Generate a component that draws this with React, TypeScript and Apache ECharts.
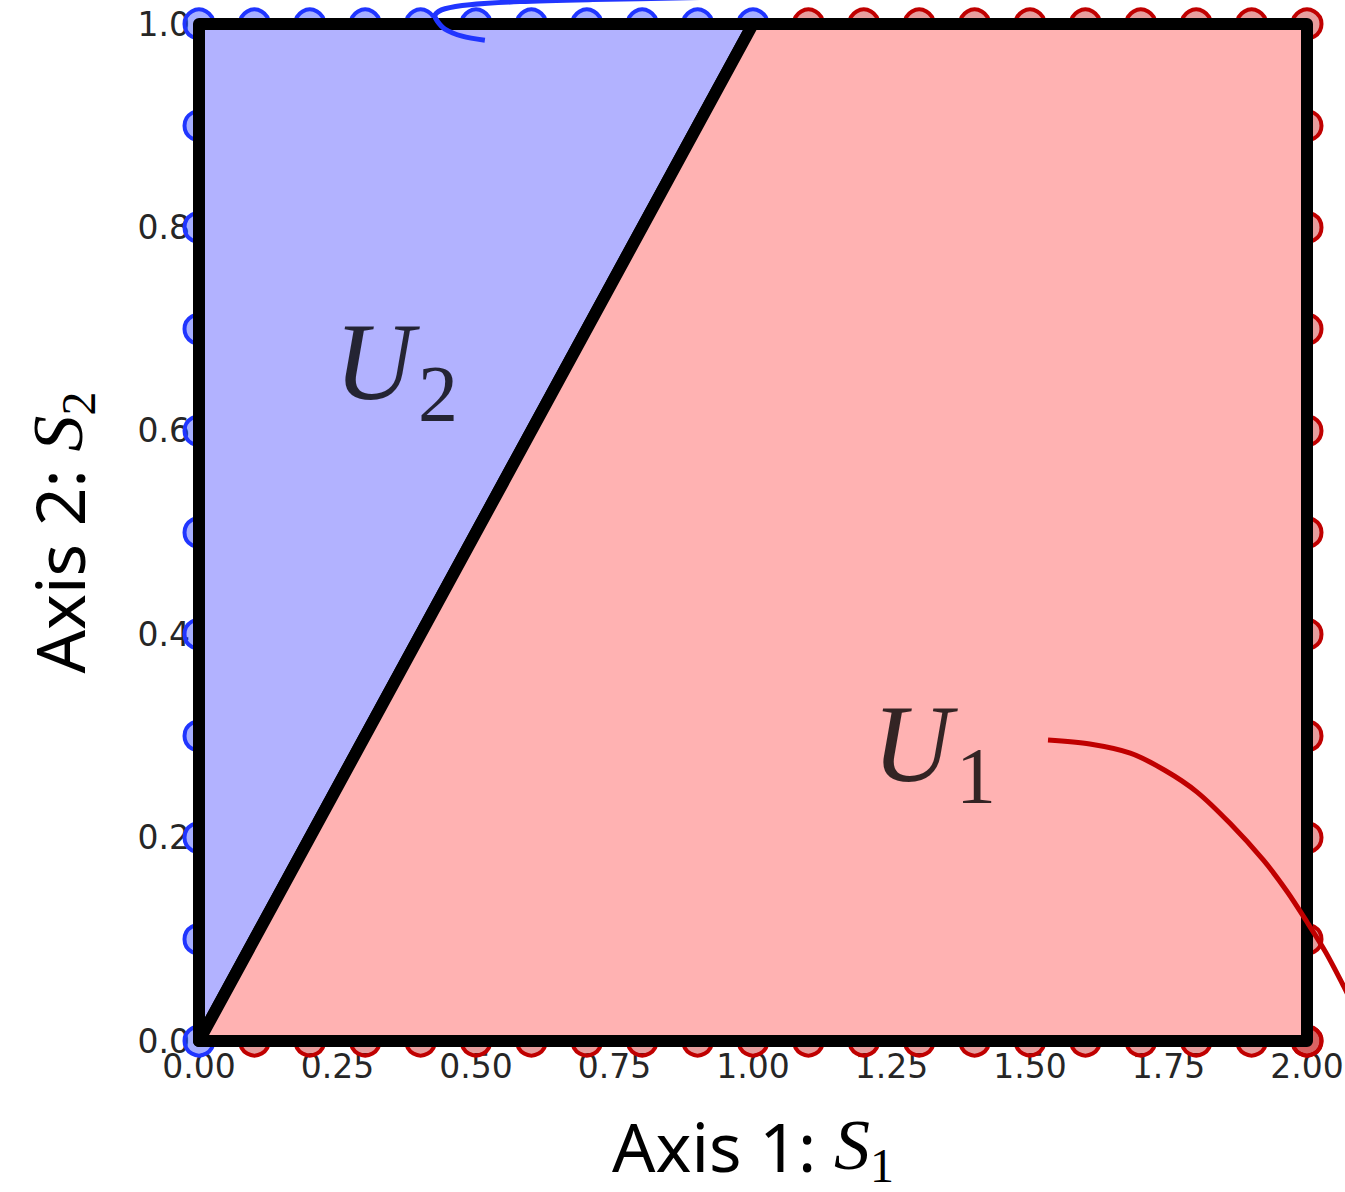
import React, { useEffect, useRef } from "react";
import * as echarts from "echarts";

// ---- data ----
const u2Region: number[][] = [[0, 0], [0, 1], [1, 1]];
const u1Region: number[][] = [[0, 0], [1, 1], [2, 1], [2, 0]];

const u2LeftS2 = [0.0, 0.1, 0.2, 0.3, 0.4, 0.5, 0.6, 0.7, 0.8, 0.9, 1.0];
const u2TopS1 = [0.1, 0.2, 0.3, 0.4, 0.5, 0.6, 0.7, 0.8, 0.9, 1.0];
const u1BottomS1 = [0.1, 0.2, 0.3, 0.4, 0.5, 0.6, 0.7, 0.8, 0.9, 1.0, 1.1, 1.2, 1.3, 1.4, 1.5, 1.6, 1.7, 1.8, 1.9, 2.0];
const u1RightS2 = [0.0, 0.1, 0.2, 0.3, 0.4, 0.5, 0.6, 0.7, 0.8, 0.9, 1.0];
const u1TopS1 = [1.1, 1.2, 1.3, 1.4, 1.5, 1.6, 1.7, 1.8, 1.9];

const u2Curve: number[][] = [
  [0.516, 0.984], [0.475, 0.988], [0.444, 0.995], [0.43, 1.003],
  [0.426, 1.009], [0.444, 1.015], [0.489, 1.019], [0.579, 1.022],
  [0.711, 1.024], [0.904, 1.026],
];
const u1Curve: number[][] = [
  [1.5325, 0.296], [1.608, 0.292], [1.681, 0.283], [1.744, 0.266],
  [1.801, 0.245], [1.861, 0.214], [1.921, 0.178], [1.964, 0.147],
  [2.0, 0.117], [2.034, 0.087], [2.067, 0.053], [2.081, 0.037],
];

const regionNames = ["U", "U"];
const regionSubs = ["2", "1"];
const regionAnchors: number[][] = [[0.356, 0.668], [1.327, 0.292]];

const xAxisTitle = "Axis 1: ";
const yAxisTitle = "Axis 2: ";
const xAxisSub = "1";
const yAxisSub = "2";

// ---- styles ----
const BLUE_FILL = "#b2b2ff";
const RED_FILL = "#ffb2b2";
const BLUE_LINE = "#2035ff";
const RED_LINE = "#c00000";

export default function App() {
  const ref = useRef<HTMLDivElement>(null);

  useEffect(() => {
    if (!ref.current) return;
    document.body.style.margin = "0";
    document.body.style.overflow = "hidden";
    const chart = echarts.init(ref.current, null, { renderer: "svg" });

    const blueMarkers = [
      ...u2LeftS2.map((s2) => [0, s2]),
      ...u2TopS1.map((s1) => [s1, 1]),
    ];
    const redMarkers = [
      ...u1BottomS1.map((s1) => [s1, 0]),
      ...u1RightS2.map((s2) => [2, s2]),
      ...u1TopS1.map((s1) => [s1, 1]),
    ];

    const polygonSeries = (verts: number[][], fill: string, z: number) => ({
      type: "custom",
      z,
      data: verts,
      encode: { x: 0, y: 1 },
      silent: true,
      renderItem: (params: any, api: any) => {
        if (params.dataIndex !== 0) return null;
        const pts = verts.map((v) => api.coord(v));
        return {
          type: "polygon",
          shape: { points: pts },
          style: { fill, stroke: "#000", lineWidth: 12, lineJoin: "round" },
        };
      },
    });

    const curveSeries = (pts: number[][], color: string) => ({
      type: "custom",
      z: 4,
      data: pts,
      encode: { x: 0, y: 1 },
      clip: false,
      silent: true,
      renderItem: (params: any, api: any) => {
        if (params.dataIndex !== 0) return null;
        const px = pts.map((v) => api.coord(v));
        return {
          type: "polyline",
          shape: { points: px, smooth: 0.3 },
          style: { stroke: color, lineWidth: 5, fill: null, lineCap: "butt" },
        };
      },
    });

    const nameRich = {
      a: { fontFamily: "Noto Sans", fontSize: 68, color: "#000" },
      s: { fontFamily: "Liberation Serif", fontStyle: "italic", fontSize: 72, color: "#000" },
      b: { fontFamily: "Liberation Serif", fontSize: 48, color: "#000", padding: [40, 0, 0, 0] },
    };

    const regionRich = {
      u: { fontFamily: "Liberation Serif", fontStyle: "italic", fontSize: 110, color: "#000", padding: [0, 4, 0, 0] },
      s: { fontFamily: "Liberation Serif", fontSize: 80, color: "#000", padding: [64, 0, 0, 0] },
    };

    chart.setOption({
      animation: false,
      backgroundColor: "#ffffff",
      grid: {
        left: 199,
        right: 38,
        top: 24,
        bottom: 151,
        containLabel: false,
        outerBoundsMode: "none",
      },
      xAxis: {
        type: "value",
        min: 0,
        max: 2,
        interval: 0.25,
        axisLine: { show: false },
        axisTick: { show: false },
        splitLine: { show: false },
        axisLabel: {
          fontFamily: "DejaVu Sans",
          fontSize: 33,
          color: "#262626",
          margin: 9,
          formatter: (v: number) => v.toFixed(2),
        },
        name: `{a|${xAxisTitle}}{s|S}{b|${xAxisSub}}`,
        nameLocation: "middle",
        nameGap: 60,
        nameTextStyle: { rich: nameRich },
      },
      yAxis: {
        type: "value",
        min: 0,
        max: 1,
        interval: 0.2,
        axisLine: { show: false },
        axisTick: { show: false },
        splitLine: { show: false },
        axisLabel: {
          fontFamily: "DejaVu Sans",
          fontSize: 33,
          color: "#262626",
          margin: 9,
          formatter: (v: number) => v.toFixed(1),
        },
        name: `{a|${yAxisTitle}}{s|S}{b|${yAxisSub}}`,
        nameLocation: "middle",
        nameGap: 97,
        nameTextStyle: { rich: nameRich },
      },
      series: [
        {
          type: "scatter",
          z: 1,
          symbol: "circle",
          symbolSize: 29,
          data: redMarkers,
          itemStyle: { color: "rgba(192,0,0,0.38)", borderColor: RED_LINE, borderWidth: 4, opacity: 1 },
          silent: true,
        },
        {
          type: "scatter",
          z: 1,
          symbol: "circle",
          symbolSize: 29,
          data: blueMarkers,
          itemStyle: { color: "rgba(32,53,255,0.4)", borderColor: BLUE_LINE, borderWidth: 4, opacity: 1 },
          silent: true,
        },
        polygonSeries(u2Region, BLUE_FILL, 2),
        polygonSeries(u1Region, RED_FILL, 3),
        curveSeries(u2Curve, BLUE_LINE),
        curveSeries(u1Curve, RED_LINE),
        {
          type: "scatter",
          z: 5,
          symbolSize: 1,
          itemStyle: { color: "rgba(0,0,0,0)" },
          data: regionAnchors,
          label: {
            show: true,
            position: "inside",
            formatter: (p: any) => `{u|${regionNames[p.dataIndex]}}{s|${regionSubs[p.dataIndex]}}`,
            rich: regionRich,
          },
          silent: true,
        },
      ],
    });

    return () => chart.dispose();
  }, []);

  return (
    <div
      ref={ref}
      style={{ position: "fixed", left: 0, top: 0, width: 1345, height: 1192, background: "#fff", overflow: "hidden" }}
    />
  );
}
